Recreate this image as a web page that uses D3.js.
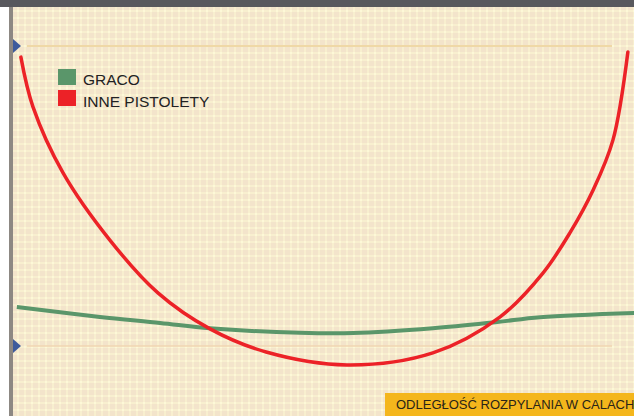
<!DOCTYPE html>
<html>
<head>
<meta charset="utf-8">
<script src="https://cdn.jsdelivr.net/npm/d3@7"></script>
<style>
  body { margin: 0; background: #fff; }
  svg { display: block; }
</style>
</head>
<body>
<svg id="chart" width="634" height="416"></svg>
<script>
// distance (arbitrary units across the axis) and spray width, reference lines at 0 and 100
const redX = [0.19, 0.58, 1.55, 3.06, 4.61, 6.29, 8.1, 10.71, 13.48, 15.65, 17.03, 17.9, 18.65, 19.29, 19.77];
const redY = [96.3, 79.7, 57.7, 35.3, 17.7, 5.7, -2.0, -6.3, -2.3, 9.7, 24.3, 37.7, 52, 68.7, 98];
const greenX = [0.06, 2.74, 4.68, 6.29, 9.19, 10.9, 13.48, 15.55, 16.94, 19.97];
const greenY = [13, 9.7, 7.7, 5.9, 4.4, 4.3, 5.9, 8, 9.6, 11];
const refLevels = [100, 0];
const legendLabels = ["GRACO", "INNE PISTOLETY"];
const axisTitle = "ODLEGŁOŚĆ ROZPYLANIA W CALACH";

const width = 634, height = 416;
const svg = d3.select("#chart");

const x = d3.scaleLinear().domain([0, 20]).range([15, 635]);
const y = d3.scaleLinear().domain([0, 100]).range([346, 46]);

// background texture
const defs = svg.append("defs");
const pat = defs.append("pattern")
  .attr("id", "tex")
  .attr("width", 7).attr("height", 7)
  .attr("patternUnits", "userSpaceOnUse");
pat.append("rect").attr("width", 7).attr("height", 7).attr("fill", "#f3e4cb");
pat.append("rect").attr("x", 3).attr("y", 0).attr("width", 2).attr("height", 7).attr("fill", "#f8efcf");
pat.append("rect").attr("x", 0).attr("y", 3).attr("width", 7).attr("height", 2).attr("fill", "#f8efcf");
pat.append("rect").attr("x", 3).attr("y", 3).attr("width", 2).attr("height", 2).attr("fill", "#fdf8d8");

svg.append("rect")
  .attr("x", 13).attr("y", 7)
  .attr("width", width - 13).attr("height", height - 7)
  .attr("fill", "url(#tex)");

// top bar
svg.append("rect")
  .attr("x", 0).attr("y", 0)
  .attr("width", width).attr("height", 7)
  .attr("fill", "#58585d");

// left axis bar
svg.append("rect")
  .attr("x", 9).attr("y", 7)
  .attr("width", 4).attr("height", height - 7)
  .attr("fill", "#8d8883");

// reference lines
svg.selectAll(".ref")
  .data(refLevels)
  .enter()
  .append("line")
  .attr("x1", 27).attr("x2", 612)
  .attr("y1", d => y(d)).attr("y2", d => y(d))
  .attr("stroke", (d, i) => i === 0 ? "#efd8a6" : "#f1d6b2")
  .attr("stroke-width", (d, i) => i === 0 ? 2 : 1.5);

// blue markers on the axis
svg.selectAll(".mark")
  .data(refLevels)
  .enter()
  .append("path")
  .attr("d", d => `M13,${y(d) - 7} L21,${y(d)} L13,${y(d) + 7} Z`)
  .attr("fill", "#3e5b9c");

const line = d3.line()
  .x(d => x(d[0]))
  .y(d => y(d[1]))
  .curve(d3.curveCatmullRom.alpha(0.5));

svg.append("path")
  .datum(d3.zip(greenX, greenY))
  .attr("d", line)
  .attr("fill", "none")
  .attr("stroke", "#5a966a")
  .attr("stroke-width", 4);

svg.append("path")
  .datum(d3.zip(redX, redY))
  .attr("d", line)
  .attr("fill", "none")
  .attr("stroke", "#ec2227")
  .attr("stroke-width", 3.5)
  .attr("stroke-linecap", "round");

// legend
const legendColors = ["#5a966a", "#ec2227"];
const lg = svg.append("g").attr("transform", "translate(58,69)");
lg.selectAll("rect")
  .data(legendLabels)
  .enter()
  .append("rect")
  .attr("x", 0).attr("y", (d, i) => i * 21)
  .attr("width", 18).attr("height", 16)
  .attr("fill", (d, i) => legendColors[i]);
lg.selectAll("text")
  .data(legendLabels)
  .enter()
  .append("text")
  .attr("x", 25).attr("y", (d, i) => i * 22 + 16)
  .attr("font-family", "Liberation Sans, Arial, sans-serif")
  .attr("font-size", 15.5)
  .attr("fill", "#222")
  .text(d => d);

// axis title box
svg.append("rect")
  .attr("x", 385).attr("y", 393)
  .attr("width", width - 385).attr("height", height - 393)
  .attr("fill", "#f4b61c");
svg.append("text")
  .attr("x", 396).attr("y", 409)
  .attr("font-family", "Liberation Sans, Arial, sans-serif")
  .attr("font-size", 13)
  .attr("fill", "#2a2418")
  .text(axisTitle);
</script>
</body>
</html>
